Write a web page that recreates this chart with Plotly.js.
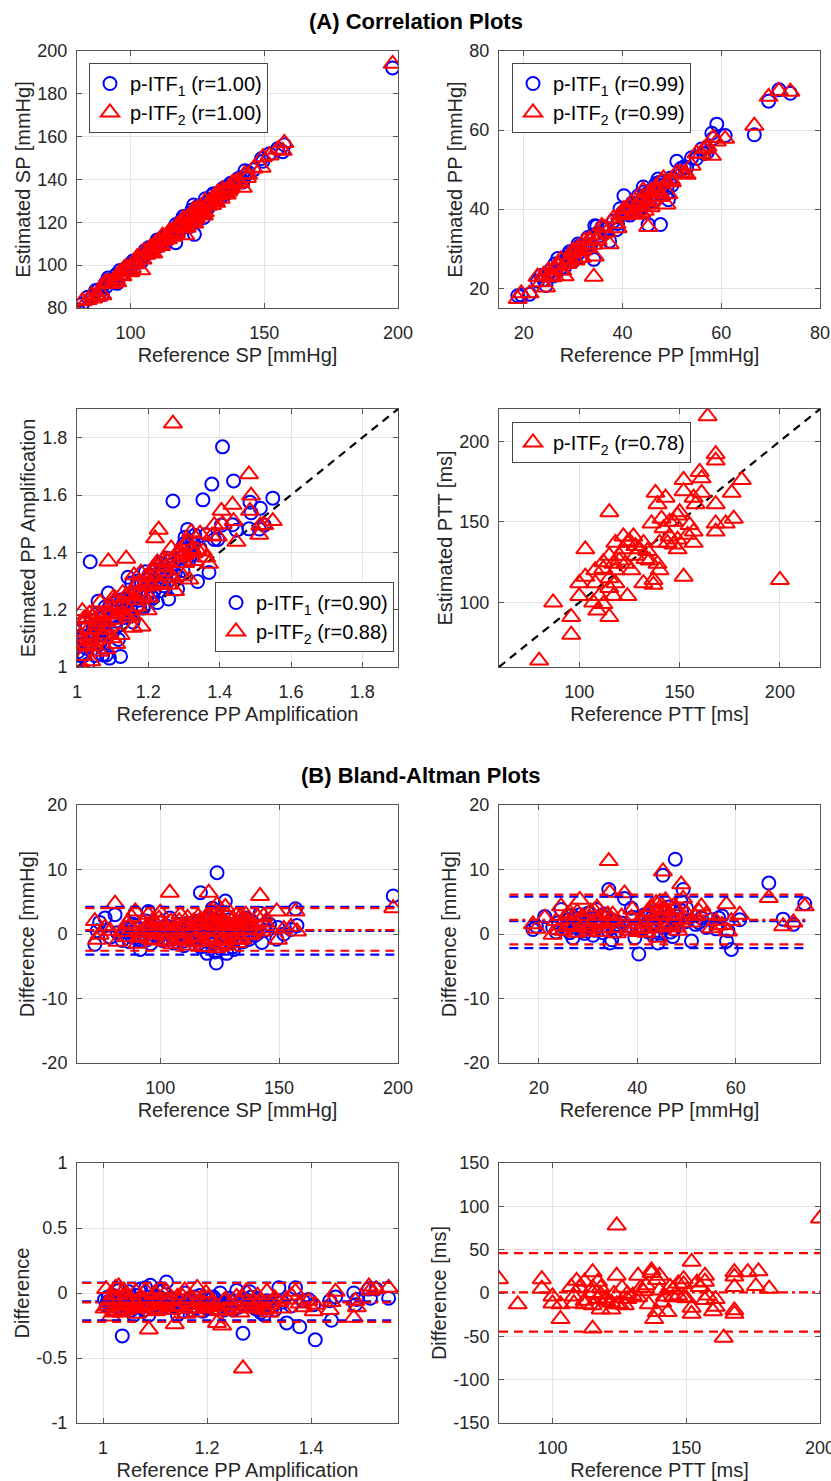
<!DOCTYPE html>
<html><head><meta charset="utf-8">
<script src="https://cdn.plot.ly/plotly-3.0.1.min.js"></script>
<style>html,body{margin:0;padding:0;background:#fff;} #chart{width:831px;height:1481px;}</style>
</head><body><div id="chart"></div>
<script>
// ---------------- DATA ----------------
// Systolic pressure: reference and (reference - estimated) differences
const spRef   = [72.5,73.5,74.5,76.8,79,81,82,84,85.5,87,88.5,89.5,90.5,91.6,93,94,95,96,97,98,99,100,101,102,103,104,105,106,107,108,109,110,111,112,113,114,115,116,116.9,118,119,119.7,120.4,121,122,122.8,123.6,123.9,124.5,125,126,127.4,128,129,130,131,132,133,133.7,135,136,137,139,140,142,142.8,144,146,149,149.5,152,155,156.9,157.5,198,
                 86,92,96.5,99.5,102.5,105.5,108.5,110.5,112.5,114.5,117,118.5,120,121.5,123,124,125.5,126.5,128.5,130.5,132.5,134,136.5,138,141,
                 104.5,106.5,107.5,109.5,111.5,113.5,115.5,117.5,119.3,120.8,121.8,122.5,123.3,124.8,125.8,126.8,127.8,129.5,131.5,133.3,134.5,135.5,137.5,138.5,88,91,94.5,97.5,100.5,143.5];
const spDiff1 = [-1.6,0.5,1.8,2.5,-0.5,3.0,0.2,-1.0,0.8,-1.2,1.5,3.3,-0.8,-2.4,0.5,2.0,3.5,-1.5,1.0,-0.3,0.8,1.8,-1.0,0.3,1.2,2.5,-0.5,0.6,-1.2,1.5,0.2,-1.8,0.9,-0.6,1.3,-0.2,0.5,2.0,6.4,-0.9,1.1,-3.0,2.6,0.3,4.0,-1.5,-4.5,9.5,1.2,-2.2,0.8,5.1,-3.0,2.2,-0.8,-2.4,1.6,0.1,1.8,-1.2,2.5,0.4,0.9,-0.2,3.2,-1.3,0.6,1.5,-0.8,1.0,0.0,0.7,3.9,1.3,5.9,
                 0.3,-1.0,1.2,-0.5,0.9,-1.4,0.7,1.6,-0.9,0.4,-2.0,1.9,-1.1,2.4,-2.8,3.2,0.6,-1.6,1.1,-2.0,0.2,2.0,-0.5,1.3,0.1,
                 0.8,-0.6,1.4,-1.1,0.2,1.7,-0.4,0.9,-1.9,1.3,-0.2,2.1,-1.0,0.5,1.8,-0.7,0.4,-1.3,1.0,-0.5,0.7,1.5,-0.8,2.0,-0.4,0.9,-0.9,1.5,0.1,1.2];
const spDiff2 = [2.0,-0.9,-0.1,1.0,0.5,4.7,-1.2,0.3,-0.5,1.2,0.8,3.5,-1.5,0.2,1.8,0.6,3.0,-0.8,2.2,-1.0,0.4,3.3,-0.2,1.5,0.5,6.4,-1.6,1.0,0.2,2.0,-0.8,-1.0,1.4,-1.8,0.6,1.9,-0.4,2.7,2.2,0.9,-1.2,-2.0,6.4,3.5,2.0,1.0,-2.2,4.5,2.8,-1.5,0.3,4.2,-1.8,1.3,0.4,-0.9,2.9,-0.7,2.7,0.8,3.0,1.5,1.2,0.6,5.9,0.4,1.8,0.9,3.5,-0.9,0.8,1.1,3.5,0.4,4.0,
                 1.6,-0.3,0.9,2.4,-1.2,0.6,3.0,-0.6,1.1,-1.3,1.8,0.3,2.6,-0.9,3.4,1.5,-1.0,2.2,0.5,2.4,-1.4,1.0,2.1,-0.2,2.6,
                 1.9,0.1,-0.9,1.2,2.5,-0.3,1.4,-1.2,0.8,2.9,-0.8,1.6,0.3,-1.1,2.3,1.0,3.1,-0.2,1.8,0.6,-0.9,2.2,1.1,0.0,2.6,-0.6,1.3,0.2,1.9,2.8];

// Pulse pressure
const ppRef   = [18.8,19.5,21.2,22.8,23.5,24.5,25,25.8,26.9,27.5,28.3,29,29.8,30.5,31,31.7,32.3,33,33.6,34.2,34.4,35,35.8,37.4,38.2,38.8,39.5,40.3,41,41.8,42.5,43.2,43.8,44.2,44.8,45.2,45.7,46.3,46.8,47.7,48.3,48.9,49.3,50,51,51.8,53,54,55,56,57.2,58.1,58.4,59.1,60.8,66.7,69.6,71.7,74,
                 24,26.3,27.2,28.8,30,31.3,32.8,34.8,36.2,39,40,41.5,42.8,43.5,44.5,45.5,46,47.2,48,49.8,
                 25.3,26,27.8,29.3,30.8,31.8,33.3,34,35.4,36.8,40.7,42,43,44,45,46.5,47.5,49,52.5,56.5];
const ppDiff1 = [0.7,1.2,2.7,1.0,0.3,3.8,1.5,2.2,-0.6,1.0,3.0,0.5,2.0,1.2,-0.2,3.8,1.8,0.2,2.5,6.9,-1.4,1.0,0.4,5.5,1.2,4.0,-0.6,-3.1,0.8,1.5,2.8,-0.2,3.5,-1.4,2.0,9.1,1.0,4.2,0.3,11.6,2.2,5.0,6.9,4.0,-1.1,1.5,2.5,1.0,2.2,0.8,2.8,-1.1,0.5,-2.4,2.2,7.9,2.3,1.5,4.7,
                 1.8,0.2,2.6,1.1,3.2,0.6,2.9,-0.9,1.4,2.6,0.9,3.0,1.3,2.4,0.1,3.3,1.7,-0.4,2.7,1.9,
                 0.9,2.9,1.6,0.1,2.4,1.2,3.1,0.6,2.0,1.7,1.9,0.4,2.6,3.2,1.1,2.8,0.7,3.6,1.8,2.5];
const ppDiff2 = [1.5,0.8,2.5,-0.1,2.0,4.3,0.5,3.0,1.2,0.2,5.3,2.5,1.0,3.5,0.8,2.0,0.3,2.8,1.5,11.3,6.4,3.0,0.1,6.3,0.5,2.5,1.0,0.3,2.0,0.2,3.5,1.5,4.8,-0.6,3.0,9.7,5.2,2.5,1.2,3.8,0.5,7.7,5.5,3.2,1.8,2.6,4.3,3.0,0.9,2.0,1.4,4.6,0.4,2.0,3.0,5.6,1.2,1.8,4.3,
                 0.6,3.3,1.4,2.7,0.4,3.6,1.7,2.2,0.9,3.8,1.6,0.8,4.2,2.1,4.9,1.1,3.6,2.6,1.0,2.4,
                 2.3,1.1,3.4,2.0,1.4,4.1,0.9,3.0,1.9,2.7,0.8,3.3,2.4,1.0,3.9,1.6,4.4,2.2,3.5,1.3];

// PP amplification
const ppaRef   = [1.003,1.006,1.010,1.015,1.018,1.020,1.024,1.028,1.030,1.033,1.037,1.040,1.045,1.050,1.055,1.059,1.063,1.068,1.072,1.077,1.082,1.088,1.091,1.095,1.100,1.105,1.110,1.116,1.122,1.128,1.133,1.138,1.143,1.150,1.157,1.163,1.170,1.176,1.179,1.181,1.186,1.192,1.198,1.205,1.212,1.219,1.225,1.229,1.236,1.243,1.250,1.257,1.264,1.269,1.275,1.282,1.290,1.297,1.303,1.310,1.315,1.322,1.330,1.338,1.345,1.353,1.362,1.370,1.378,1.385,1.395,1.405,1.408,1.436,1.439,1.447,1.482,1.485,1.511,1.514,1.525,1.549,
                  1.012,1.026,1.042,1.057,1.065,1.079,1.097,1.108,1.125,1.140,1.153,1.167,1.183,1.202,1.216,1.240,1.260,1.285,1.300,1.320,1.488,
                  1.008,1.022,1.035,1.048,1.061,1.074,1.086,1.102,1.113,1.135,1.147,1.160,1.173,1.195,1.208,1.222,1.233,1.247,1.270,1.293,1.307,1.327];
const ppaDiff1 = [-0.05,-0.10,-0.03,-0.12,-0.08,-0.02,-0.06,-0.11,0.02,-0.07,-0.33,-0.04,-0.09,0.01,-0.13,-0.17,-0.05,-0.08,0.03,-0.10,0.04,-0.17,0.06,-0.07,-0.02,-0.12,-0.05,0.02,0.085,-0.08,-0.04,-0.10,-0.17,-0.06,0.00,-0.09,-0.13,-0.03,-0.07,-0.11,-0.02,-0.14,-0.05,-0.09,-0.03,-0.12,0.00,-0.07,-0.10,-0.04,-0.13,0.02,-0.08,-0.31,-0.05,0.01,-0.09,-0.04,-0.15,-0.17,-0.06,-0.11,-0.13,0.04,-0.07,-0.23,-0.10,0.04,-0.26,-0.06,-0.05,-0.09,-0.36,-0.06,-0.21,-0.03,0.00,-0.09,0.03,-0.04,0.03,-0.04,
                  -0.09,-0.04,-0.12,-0.07,-0.02,-0.13,-0.08,-0.03,-0.11,-0.06,-0.14,-0.04,-0.08,-0.12,-0.05,-0.09,-0.11,-0.03,-0.13,-0.07,-0.05,
                  -0.07,-0.13,-0.04,-0.10,-0.06,-0.11,-0.03,-0.09,-0.12,-0.05,-0.08,-0.10,-0.06,-0.11,-0.04,-0.08,-0.13,-0.06,-0.09,-0.12,-0.07,-0.10];
const ppaDiff2 = [-0.12,0.03,-0.08,-0.18,-0.02,-0.15,0.04,-0.05,0.05,-0.10,-0.06,0.02,-0.13,-0.04,-0.09,-0.07,0.01,-0.11,-0.03,-0.08,0.02,-0.28,-0.05,-0.12,0.00,-0.06,0.03,-0.09,0.01,-0.13,-0.05,-0.24,-0.03,-0.10,0.02,-0.07,-0.04,-0.12,-0.15,0.04,-0.06,-0.09,0.00,-0.11,-0.07,-0.23,-0.14,-0.25,-0.05,-0.09,-0.12,-0.03,-0.15,-0.58,0.01,-0.08,-0.11,-0.02,-0.06,-0.13,0.01,-0.09,-0.04,-0.07,-0.12,-0.05,-0.02,0.01,-0.08,-0.11,-0.06,-0.14,-0.09,-0.13,-0.07,0.01,-0.19,-0.06,0.05,0.02,0.03,0.04,
                  -0.06,-0.14,-0.03,-0.10,-0.16,-0.05,-0.09,-0.13,-0.06,-0.11,-0.03,-0.12,-0.07,-0.04,-0.10,-0.13,-0.06,-0.12,-0.09,-0.15,-0.11,
                  -0.10,-0.05,-0.15,-0.08,-0.12,-0.04,-0.10,-0.14,-0.07,-0.11,-0.05,-0.16,-0.09,-0.12,-0.08,-0.13,-0.06,-0.10,-0.04,-0.09,-0.12,-0.07];

// Pulse transit time (p-ITF2 only): reference and estimated
const pttRef = [164,168,168,160,161,181,152,176,152,161,138,143,157,158,139,168,115,149,147,177,173,168,168,136,141,142,157,154,145,149,144,157,149,122,127,132,118,124,103,115,120,128,134,135,112,117,123,139,140,108,118,115,103,100,108,132,137,152,200,137,115,100,110,117,124,107,109,112,87,115,96,96,80,125,130,122,128,124,
                145,150,133,120,112,140,155,126,118,147];
const pttEst = [215.5,192,188,181,177,176,176,168,169,168,168,165,165,161,161,161,156,154,150,152,149,149,144,149,152,146,144,142,141,139,137,137,133,141,141,137,137,137,133,129,129,129,132,126,125,124,124,124,120,120,120,115,116,112,112,112,114,116,114,111,109,104,104,104,104,100,95,99,100,91,91,80,64,138,133,133,135,46,
                150,156,127,126,121,137,148,120,112,136];

// Bland-Altman lines [lower limit, mean, upper limit]
const spLoA1  = [-3.2, 0.5, 4.2],   spLoA2  = [-2.6, 0.6, 4.0];
const ppLoA1  = [-2.2, 2.0, 5.8],   ppLoA2  = [-1.6, 2.2, 6.1];
const ppaLoA1 = [-0.21, -0.065, 0.08], ppaLoA2 = [-0.222, -0.072, 0.077];
const pttLoA2 = [-44.5, 0.8, 46];
// x extent of the Bland-Altman lines
const spLineX = [68.5, 199], ppLineX = [14, 74.5], ppaLineX = [0.96, 1.56], pttLineX = [80, 200];

// Legend labels
const leg = {
  sp:  ['p-ITF<sub>1</sub> (r=1.00)', 'p-ITF<sub>2</sub> (r=1.00)'],
  pp:  ['p-ITF<sub>1</sub> (r=0.99)', 'p-ITF<sub>2</sub> (r=0.99)'],
  ppa: ['p-ITF<sub>1</sub> (r=0.90)', 'p-ITF<sub>2</sub> (r=0.88)'],
  ptt: ['p-ITF<sub>2</sub> (r=0.78)']
};

// ---------------- STYLE ----------------
const FONT = 'Liberation Sans, Arial, Helvetica, sans-serif';
const BLUE = '#0000ff', RED = '#ff0000';
const est = (ref, diff) => ref.map((r, i) => r - diff[i]);
const diffOf = (ref, e) => ref.map((r, i) => r - e[i]);

function pts(x, y, kind, n, name, legendId, show) {
  const m = kind === 1
    ? {symbol: 'circle-open', size: 13, color: BLUE, line: {width: 2, color: BLUE}}
    : {symbol: 'triangle-up-open', size: 16, color: RED, line: {width: 2, color: RED}};
  return {type: 'scatter', mode: 'markers', x: x, y: y, xaxis: 'x' + (n > 1 ? n : ''), yaxis: 'y' + (n > 1 ? n : ''),
          name: name || '', legend: legendId || 'legend', showlegend: !!show, marker: m, hoverinfo: 'skip'};
}
function hline(xr, yv, color, dash, n) {
  return {type: 'scatter', mode: 'lines', x: xr, y: [yv, yv], xaxis: 'x' + n, yaxis: 'y' + n,
          showlegend: false, hoverinfo: 'skip', line: {color: color, width: 2.2, dash: dash}};
}
const DASH = '9px,6px', DASHDOT = '9px,4px,3px,4px';
function baLines(xr, loa, color, n) {
  return [hline(xr, loa[0], color, DASH, n), hline(xr, loa[1], color, DASHDOT, n), hline(xr, loa[2], color, DASH, n)];
}
function diag(r, n) {
  return {type: 'scatter', mode: 'lines', x: r, y: r, xaxis: 'x' + n, yaxis: 'y' + n, showlegend: false,
          hoverinfo: 'skip', line: {color: '#000', width: 2.2, dash: '8px,6px'}};
}

const traces = [
  // (A) correlation
  pts(spRef, est(spRef, spDiff1), 1, 1, leg.sp[0], 'legend', true),
  pts(spRef, est(spRef, spDiff2), 2, 1, leg.sp[1], 'legend', true),
  pts(ppRef, est(ppRef, ppDiff1), 1, 2, leg.pp[0], 'legend2', true),
  pts(ppRef, est(ppRef, ppDiff2), 2, 2, leg.pp[1], 'legend2', true),
  diag([1, 1.9], 3),
  pts(ppaRef, est(ppaRef, ppaDiff1), 1, 3, leg.ppa[0], 'legend3', true),
  pts(ppaRef, est(ppaRef, ppaDiff2), 2, 3, leg.ppa[1], 'legend3', true),
  diag([60, 220], 4),
  pts(pttRef, pttEst, 2, 4, leg.ptt[0], 'legend4', true),
  // (B) Bland-Altman
  pts(spRef, spDiff1, 1, 5), pts(spRef, spDiff2, 2, 5),
  ...baLines(spLineX, spLoA1, BLUE, 5), ...baLines(spLineX, spLoA2, RED, 5),
  pts(ppRef, ppDiff1, 1, 6), pts(ppRef, ppDiff2, 2, 6),
  ...baLines(ppLineX, ppLoA1, BLUE, 6), ...baLines(ppLineX, ppLoA2, RED, 6),
  pts(ppaRef, ppaDiff1, 1, 7), pts(ppaRef, ppaDiff2, 2, 7),
  ...baLines(ppaLineX, ppaLoA1, BLUE, 7), ...baLines(ppaLineX, ppaLoA2, RED, 7),
  pts(pttRef, diffOf(pttRef, pttEst), 2, 8),
  ...baLines(pttLineX, pttLoA2, RED, 8)
];

// ---------------- LAYOUT ----------------
const W = 831, H = 1481;
const colX = [[77 / W, 398 / W], [499 / W, 820 / W]];
const rowY = [[1 - 308 / H, 1 - 51 / H], [1 - 667 / H, 1 - 409 / H], [1 - 1063 / H, 1 - 805 / H], [1 - 1423 / H, 1 - 1163 / H]];

const panels = [
  {x: [80, 200],   xt: [100, 150, 200], y: [80, 200], yt: [80, 100, 120, 140, 160, 180, 200], xl: 'Reference SP [mmHg]', yl: 'Estimated SP [mmHg]'},
  {x: [15, 80],    xt: [20, 40, 60, 80], y: [15, 80], yt: [20, 40, 60, 80], xl: 'Reference PP [mmHg]', yl: 'Estimated PP [mmHg]'},
  {x: [1, 1.9],    xt: [1, 1.2, 1.4, 1.6, 1.8], y: [1, 1.9], yt: [1, 1.2, 1.4, 1.6, 1.8], xl: 'Reference PP Amplification', yl: 'Estimated PP Amplification'},
  {x: [60, 220],   xt: [100, 150, 200], y: [60, 220], yt: [100, 150, 200], xl: 'Reference PTT [ms]', yl: 'Estimated PTT [ms]'},
  {x: [65, 200],   xt: [100, 150, 200], y: [-20, 20], yt: [-20, -10, 0, 10, 20], xl: 'Reference SP [mmHg]', yl: 'Difference [mmHg]'},
  {x: [11.9, 77.1], xt: [20, 40, 60], y: [-20, 20], yt: [-20, -10, 0, 10, 20], xl: 'Reference PP [mmHg]', yl: 'Difference [mmHg]'},
  {x: [0.95, 1.567], xt: [1, 1.2, 1.4], y: [-1, 1], yt: [-1, -0.5, 0, 0.5, 1], xl: 'Reference PP Amplification', yl: 'Difference'},
  {x: [80, 200],   xt: [100, 150, 200], y: [-150, 150], yt: [-150, -100, -50, 0, 50, 100, 150], xl: 'Reference PTT [ms]', yl: 'Difference [ms]'}
];

const layout = {
  width: W, height: H, margin: {l: 0, r: 0, t: 0, b: 0}, paper_bgcolor: '#fff', plot_bgcolor: '#fff',
  font: {family: FONT, size: 18, color: '#262626'}, hovermode: false,
  annotations: [
    {text: '<b>(A) Correlation Plots</b>', xref: 'paper', yref: 'paper', x: 416 / W, y: 1 - 21 / H, xanchor: 'center', yanchor: 'middle', showarrow: false, font: {family: FONT, size: 22, color: '#000'}},
    {text: '<b>(B) Bland-Altman Plots</b>', xref: 'paper', yref: 'paper', x: 421 / W, y: 1 - 775 / H, xanchor: 'center', yanchor: 'middle', showarrow: false, font: {family: FONT, size: 22, color: '#000'}}
  ]
};

const fmt = v => String(v);
const axCommon = {
  showline: true, mirror: 'ticks', linecolor: '#555', linewidth: 1, ticks: 'inside', ticklen: 5, tickcolor: '#555',
  showgrid: true, gridcolor: '#e4e4e4', gridwidth: 1, zeroline: false, fixedrange: true, ticklabeloverflow: 'allow',
  tickfont: {family: FONT, size: 18, color: '#262626'}, tickmode: 'array'
};
panels.forEach((p, i) => {
  const n = i + 1, s = n > 1 ? n : '';
  const r = Math.floor(i / 2), c = i % 2;
  layout['xaxis' + s] = Object.assign({}, axCommon, {
    domain: colX[c], range: p.x, anchor: 'y' + s, tickvals: p.xt, ticktext: p.xt.map(fmt), ticklabelstandoff: 8,
    title: {text: p.xl, font: {family: FONT, size: 20, color: '#262626'}, standoff: 6}
  });
  layout['yaxis' + s] = Object.assign({}, axCommon, {
    domain: rowY[r], range: p.y, anchor: 'x' + s, tickvals: p.yt, ticktext: p.yt.map(fmt), ticklabelstandoff: 5,
    title: {text: p.yl, font: {family: FONT, size: 20, color: '#262626'}, standoff: 1}
  });
});

const legBox = {bgcolor: '#fff', bordercolor: '#444', borderwidth: 1, font: {family: FONT, size: 20, color: '#000'},
                xanchor: 'left', yanchor: 'top', xref: 'paper', yref: 'paper', tracegroupgap: 0};
layout.legend  = Object.assign({}, legBox, {x: 89 / W,  y: 1 - 63 / H});
layout.legend2 = Object.assign({}, legBox, {x: 512 / W, y: 1 - 63 / H});
layout.legend3 = Object.assign({}, legBox, {x: 215 / W, y: 1 - 582 / H});
layout.legend4 = Object.assign({}, legBox, {x: 512 / W, y: 1 - 422 / H});

Plotly.newPlot('chart', traces, layout, {staticPlot: true, displayModeBar: false});
</script></body></html>
